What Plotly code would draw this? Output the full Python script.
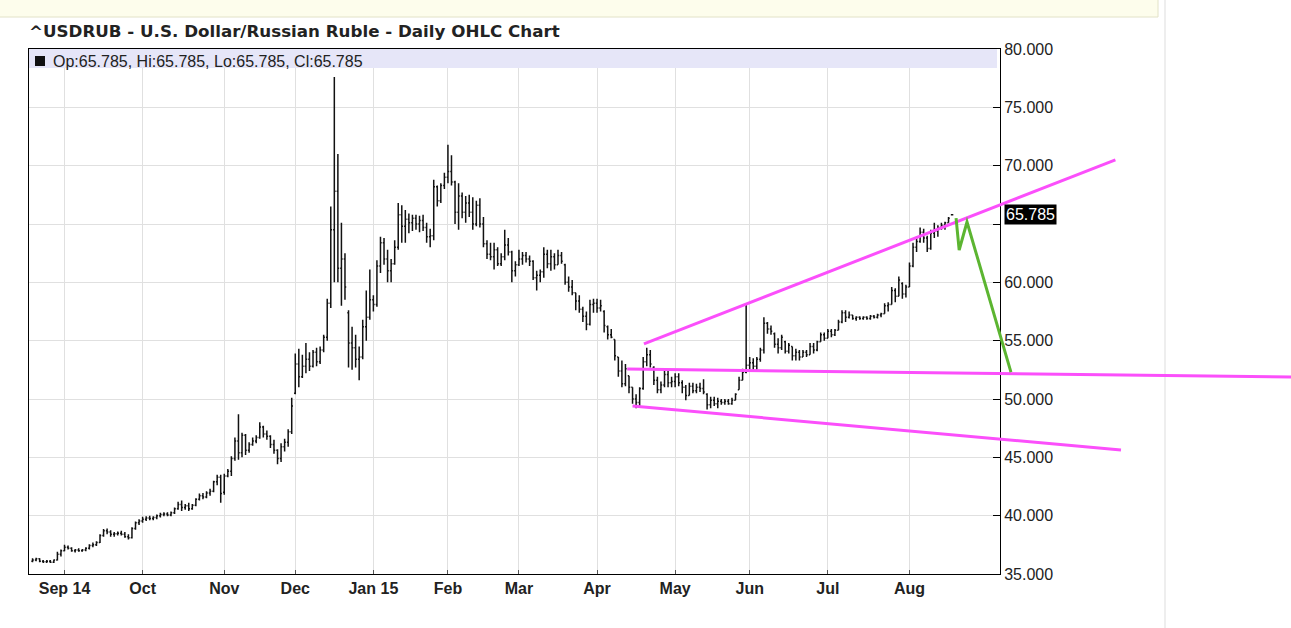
import numpy as np
import pandas as pd
import plotly.graph_objects as go

# ---------------- data ----------------
HOLIDAYS = ["2014-12-25", "2015-01-01"]
FIRST_DAY = "2014-08-19"
LAST_DAY = "2015-08-19"

# (open, high, low, close) per trading day
aug14 = [(36.10, 36.35, 36.00, 36.20), (36.20, 36.40, 36.10, 36.30), (36.30, 36.35, 36.00, 36.10),
         (36.10, 36.20, 35.95, 36.05), (36.05, 36.20, 35.95, 36.10), (36.10, 36.20, 35.95, 36.00),
         (36.00, 36.25, 35.95, 36.20), (36.20, 36.90, 36.15, 36.70), (36.70, 37.10, 36.50, 37.00)]
sep14 = [(37.00, 37.50, 36.95, 37.30), (37.30, 37.45, 37.10, 37.20), (37.20, 37.30, 36.90, 37.00),
         (37.00, 37.15, 36.85, 37.05), (37.05, 37.20, 36.90, 37.00), (37.00, 37.15, 36.90, 37.05),
         (37.05, 37.30, 36.95, 37.20), (37.20, 37.55, 37.10, 37.45), (37.45, 37.70, 37.30, 37.50),
         (37.50, 37.80, 37.40, 37.70), (37.70, 38.40, 37.65, 38.30), (38.30, 38.85, 38.20, 38.70),
         (38.70, 38.90, 38.40, 38.60), (38.60, 38.75, 38.20, 38.40), (38.40, 38.60, 38.20, 38.45),
         (38.45, 38.65, 38.30, 38.50), (38.50, 38.70, 38.30, 38.40), (38.40, 38.60, 38.10, 38.20),
         (38.20, 38.40, 37.95, 38.10), (38.10, 39.00, 38.05, 38.90), (38.90, 39.50, 38.80, 39.40),
         (39.40, 39.70, 39.20, 39.55)]
oct14 = [(39.55, 39.90, 39.40, 39.70), (39.70, 39.95, 39.55, 39.80), (39.80, 40.00, 39.60, 39.75),
         (39.75, 39.95, 39.60, 39.85), (39.85, 40.10, 39.70, 40.00), (40.00, 40.25, 39.85, 40.10),
         (40.10, 40.30, 39.95, 40.15), (40.15, 40.30, 39.95, 40.05), (40.05, 40.35, 39.95, 40.25),
         (40.25, 40.70, 40.15, 40.60), (40.60, 41.20, 40.50, 40.95), (40.95, 41.30, 40.40, 40.70),
         (40.70, 41.00, 40.50, 40.85), (40.85, 41.10, 40.40, 40.60), (40.60, 41.00, 40.50, 40.90),
         (40.90, 41.50, 40.80, 41.40), (41.40, 41.90, 41.30, 41.70), (41.70, 41.95, 41.40, 41.60),
         (41.60, 42.10, 41.50, 41.95), (41.95, 42.30, 41.70, 42.10), (42.10, 43.00, 42.00, 42.90),
         (42.90, 43.50, 42.60, 43.30), (43.30, 43.50, 41.10, 41.90)]
nov14 = [(42.00, 43.60, 41.80, 43.40), (43.40, 44.00, 43.30, 43.80), (43.80, 45.10, 43.40, 44.90),
         (44.90, 46.70, 44.70, 46.40), (46.40, 48.70, 44.80, 45.40), (45.40, 47.10, 45.00, 46.90),
         (46.90, 47.00, 45.20, 45.60), (45.60, 46.30, 45.40, 46.10), (46.10, 46.70, 46.00, 46.40),
         (46.40, 46.90, 46.20, 46.70), (46.70, 48.00, 46.60, 47.60), (47.60, 47.70, 46.70, 47.00),
         (47.00, 47.30, 46.50, 46.80), (46.80, 46.90, 45.80, 46.10), (46.10, 46.50, 45.30, 45.60),
         (45.60, 45.70, 44.40, 44.90), (44.90, 46.20, 44.60, 45.90), (45.90, 46.60, 45.50, 46.30),
         (46.30, 47.40, 45.90, 47.20), (47.20, 50.10, 47.00, 49.40)]
dec14 = [(50.50, 53.90, 50.40, 53.00), (53.00, 54.30, 51.00, 51.90), (51.90, 53.80, 51.80, 52.80),
         (52.80, 54.80, 52.20, 53.40), (53.40, 54.00, 52.40, 52.80), (52.80, 54.20, 52.70, 54.00),
         (54.00, 54.40, 52.80, 53.20), (53.20, 54.50, 53.00, 54.20), (54.20, 55.50, 54.00, 55.30),
         (55.30, 58.60, 55.00, 58.20), (58.20, 66.50, 57.80, 64.50), (64.50, 77.60, 60.00, 67.80),
         (67.80, 71.00, 60.00, 61.20), (61.20, 65.10, 58.00, 62.00), (62.00, 62.50, 58.50, 59.60),
         (57.40, 57.60, 52.70, 54.80), (54.80, 56.20, 52.50, 54.40), (54.40, 55.50, 52.70, 53.40),
         (53.40, 54.50, 51.60, 53.60), (53.60, 56.80, 53.40, 56.20), (56.20, 59.30, 55.00, 57.00),
         (57.00, 61.10, 56.80, 58.50)]
jan15 = [(58.50, 58.90, 57.50, 58.10), (58.10, 61.90, 57.90, 61.40), (61.40, 63.90, 60.80, 63.40),
         (63.40, 63.80, 61.50, 62.00), (62.00, 62.80, 60.00, 61.00), (61.00, 62.00, 60.00, 61.60),
         (61.60, 63.60, 61.50, 63.00), (63.00, 66.80, 62.80, 65.80), (65.80, 66.60, 63.40, 64.80),
         (64.80, 66.20, 63.40, 65.40), (65.40, 65.90, 64.20, 65.10), (65.10, 65.80, 64.40, 65.50),
         (65.50, 65.80, 64.50, 65.00), (65.00, 65.70, 64.30, 65.30), (65.30, 65.80, 64.40, 64.70),
         (64.70, 65.10, 63.40, 63.90), (63.90, 64.60, 63.00, 64.00), (64.00, 68.80, 63.60, 68.20),
         (68.20, 68.30, 66.50, 67.00), (67.00, 68.50, 66.80, 68.30), (68.30, 69.40, 68.00, 69.00)]
feb15 = [(69.00, 71.80, 68.50, 69.50), (69.50, 70.90, 68.30, 68.60), (68.60, 68.70, 65.00, 66.00),
         (66.00, 68.50, 64.50, 67.40), (67.40, 67.70, 65.50, 66.00), (66.00, 67.40, 65.10, 66.80),
         (66.80, 67.50, 65.60, 66.00), (66.00, 67.30, 64.50, 65.00), (65.00, 67.00, 64.80, 66.60),
         (66.60, 67.20, 64.70, 65.00), (65.00, 65.60, 63.00, 63.30), (63.30, 63.60, 62.00, 62.40),
         (62.40, 63.40, 61.90, 62.20), (62.20, 63.40, 61.10, 62.80), (62.80, 63.00, 61.40, 61.60),
         (61.60, 62.50, 61.40, 62.20), (62.20, 64.50, 61.90, 63.20), (63.20, 63.80, 62.30, 62.60),
         (62.60, 62.70, 60.00, 61.00), (61.00, 61.80, 60.50, 61.50)]
mar15 = [(61.50, 62.80, 61.40, 62.00), (62.00, 62.60, 61.50, 62.30), (62.30, 62.60, 61.70, 62.00),
         (62.00, 62.30, 61.40, 61.80), (61.80, 61.90, 60.20, 60.40), (60.40, 61.00, 59.30, 60.60),
         (60.60, 61.10, 60.00, 60.90), (60.90, 63.00, 60.40, 62.40), (62.40, 62.80, 61.20, 61.60),
         (61.60, 62.80, 61.00, 62.20), (62.20, 62.50, 61.10, 61.50), (61.50, 62.80, 61.50, 62.30),
         (62.30, 62.60, 61.60, 61.80), (61.50, 61.60, 59.80, 60.00), (60.00, 60.50, 59.20, 59.60),
         (59.60, 60.20, 58.90, 59.10), (59.10, 59.10, 57.60, 58.40), (58.40, 58.90, 57.40, 57.70),
         (57.70, 57.90, 56.60, 57.10), (57.10, 57.50, 55.90, 56.40), (56.40, 58.50, 56.30, 58.10),
         (58.10, 58.60, 57.40, 58.20)]
apr15 = [(58.20, 58.60, 57.40, 57.80), (57.80, 58.50, 57.50, 58.00), (57.50, 57.60, 55.70, 56.30),
         (56.20, 56.30, 55.10, 55.50), (55.50, 56.00, 55.20, 55.30), (55.10, 55.10, 53.30, 53.70),
         (53.60, 53.60, 51.90, 52.40), (52.40, 53.30, 51.00, 51.30), (51.30, 53.00, 51.10, 52.60),
         (52.00, 52.00, 50.50, 51.00), (51.00, 51.00, 49.60, 50.00), (50.00, 50.40, 49.20, 49.70),
         (49.70, 51.00, 49.30, 50.90), (50.90, 53.60, 50.80, 53.20), (53.20, 54.40, 52.80, 53.80),
         (53.80, 54.20, 52.70, 53.00), (52.70, 52.80, 51.20, 51.60), (51.60, 51.90, 50.50, 50.80),
         (50.80, 51.50, 50.50, 51.20), (51.20, 52.60, 51.00, 52.10), (52.10, 52.50, 51.00, 51.40),
         (51.40, 51.90, 51.00, 51.50)]
may15 = [(51.50, 52.20, 51.00, 51.90), (51.90, 52.20, 51.10, 51.40), (51.40, 51.60, 50.50, 51.00),
         (51.00, 51.20, 49.90, 50.30), (50.30, 51.40, 50.30, 51.10), (51.10, 51.40, 50.50, 50.70),
         (50.70, 51.30, 50.50, 51.00), (51.00, 51.40, 50.60, 50.90), (50.90, 51.70, 50.40, 50.60),
         (50.40, 50.50, 49.10, 49.50), (49.50, 50.20, 49.20, 49.90), (49.90, 50.20, 49.40, 49.60),
         (49.60, 50.10, 49.20, 49.80), (49.80, 50.00, 49.50, 49.70), (49.70, 50.00, 49.50, 49.80),
         (49.80, 50.00, 49.50, 49.60), (49.60, 50.10, 49.50, 49.90), (49.90, 50.50, 49.90, 50.40),
         (50.80, 51.90, 50.80, 51.60), (51.60, 52.60, 51.60, 52.30), (52.30, 58.10, 52.20, 52.90)]
jun15 = [(52.90, 53.60, 52.50, 53.10), (53.10, 53.50, 52.50, 52.80), (52.80, 53.60, 52.50, 53.40),
         (53.40, 54.40, 53.20, 54.20), (54.20, 57.00, 53.90, 56.50), (56.50, 56.60, 55.60, 56.00),
         (56.00, 56.30, 55.50, 55.80), (55.60, 55.70, 54.40, 54.70), (54.70, 55.20, 53.90, 54.40),
         (54.40, 55.50, 54.20, 55.30), (54.90, 55.00, 53.90, 54.10), (54.10, 54.80, 53.90, 54.60),
         (54.50, 54.50, 53.30, 53.70), (53.70, 54.30, 53.30, 54.00), (54.00, 54.20, 53.30, 53.60),
         (53.60, 54.20, 53.60, 54.00), (54.00, 54.20, 53.60, 53.80), (53.80, 54.80, 53.80, 54.50),
         (54.50, 54.80, 53.90, 54.20), (54.20, 55.00, 54.10, 54.90), (54.90, 55.70, 54.90, 55.50),
         (55.50, 55.70, 55.00, 55.20)]
jul15 = [(55.20, 56.00, 55.20, 55.80), (55.80, 56.00, 55.30, 55.50), (55.50, 56.00, 55.40, 55.90),
         (55.90, 56.80, 55.90, 56.60), (56.60, 57.60, 56.50, 57.40), (57.40, 57.60, 56.60, 57.00),
         (57.00, 57.50, 56.90, 57.20), (57.20, 57.20, 56.80, 56.90), (56.90, 57.10, 56.70, 57.00),
         (57.00, 57.10, 56.80, 56.90), (56.90, 57.10, 56.80, 57.00), (57.00, 57.10, 56.80, 56.90),
         (56.90, 57.20, 56.80, 57.10), (57.10, 57.20, 56.90, 57.00), (57.00, 57.30, 56.90, 57.20),
         (57.20, 57.40, 57.00, 57.30), (57.30, 58.20, 57.30, 58.00), (58.00, 58.30, 57.50, 58.10),
         (58.10, 59.60, 58.10, 59.30), (59.30, 59.50, 58.30, 58.80), (58.80, 60.50, 58.80, 60.20),
         (59.90, 60.00, 58.60, 59.00), (59.00, 59.80, 58.70, 59.60)]
aug15 = [(59.60, 61.70, 59.60, 61.40), (61.40, 63.40, 61.30, 63.00), (63.00, 63.90, 62.60, 63.50),
         (63.50, 64.70, 63.40, 64.30), (64.30, 64.60, 63.40, 63.80), (63.80, 64.00, 62.60, 62.90),
         (62.90, 64.50, 62.80, 64.20), (64.20, 65.10, 63.80, 64.40), (64.40, 64.90, 63.90, 64.70),
         (64.70, 65.10, 64.50, 64.90), (64.90, 65.20, 64.50, 65.10), (65.10, 65.60, 65.10, 65.50),
         (65.785, 65.785, 65.785, 65.785)]

LAST_PRICE = 65.785

# x-axis month labels
tick_dates = ["2014-09-01", "2014-10-01", "2014-11-03", "2014-12-01", "2015-01-02", "2015-02-02",
              "2015-03-02", "2015-04-01", "2015-05-01", "2015-06-01", "2015-07-01", "2015-08-03"]
tick_text = ["Sep 14", "Oct", "Nov", "Dec", "Jan 15", "Feb", "Mar", "Apr", "May", "Jun", "Jul", "Aug"]
y_ticks = [35, 40, 45, 50, 55, 60, 65, 70, 75, 80]
y_tick_text = ["35.000", "40.000", "45.000", "50.000", "55.000", "60.000", "", "70.000", "75.000", "80.000"]

# drawn trend lines (date, price)
upper_line = [("2015-04-20 05:00", 54.72), ("2015-10-22", 70.49)]
middle_line = [("2015-04-13 12:00", 52.57), ("2015-12-31", 51.89)]
lower_line = [("2015-04-15", 49.40), ("2015-10-23 14:00", 45.63)]
green_path = [("2015-08-20 03:00", 65.51), ("2015-08-21", 62.77), ("2015-08-25 05:00", 65.17),
              ("2015-09-10 14:00", 52.31)]

X_RANGE = ["2014-08-18", "2015-09-07 12:00"]
Y_RANGE = [35, 80]

# ---------------- build ----------------
bars = aug14 + sep14 + oct14 + nov14 + dec14 + jan15 + feb15 + mar15 + apr15 + may15 + jun15 + jul15 + aug15
dates = pd.bdate_range(FIRST_DAY, LAST_DAY, freq="C", holidays=HOLIDAYS)
assert len(dates) == len(bars), (len(dates), len(bars))
opens = [b[0] for b in bars]
highs = [b[1] for b in bars]
lows = [b[2] for b in bars]
closes = [b[3] for b in bars]

W, H = 1291, 628
L, R, T, B = 29, 291, 49, 54
PW, PH = W - L - R, H - T - B

hol = np.array(HOLIDAYS, dtype="datetime64[D]")


def tpos(ts):
    ts = pd.Timestamp(ts)
    d = ts.normalize()
    frac = (ts - d) / pd.Timedelta("1D")
    return np.busday_count(np.datetime64("2000-01-03"), np.datetime64(d.date()), holidays=hol) + frac


X0, X1 = tpos(X_RANGE[0]), tpos(X_RANGE[1])


def xpaper(ts):
    return (tpos(ts) - X0) / (X1 - X0)


def px_x(p):
    return (p - L) / PW


def px_y(p):
    return (H - B - p) / PH


fig = go.Figure()
fig.add_trace(go.Ohlc(
    x=dates, open=opens, high=highs, low=lows, close=closes,
    increasing=dict(line=dict(color="#111111", width=1.5)),
    decreasing=dict(line=dict(color="#111111", width=1.5)),
    tickwidth=0.35, showlegend=False, hoverinfo="x+y",
))

shapes = []
# legend band
shapes.append(dict(type="rect", xref="paper", yref="paper", x0=0, x1=px_x(997), y0=px_y(68), y1=1,
                   fillcolor="#e6e6f8", line=dict(width=0), layer="above"))
shapes.append(dict(type="rect", xref="paper", yref="paper", x0=px_x(35), x1=px_x(45), y0=px_y(66), y1=px_y(56),
                   fillcolor="#111111", line=dict(width=0), layer="above"))
# page decorations
shapes.append(dict(type="rect", xref="paper", yref="paper", x0=px_x(-2), x1=px_x(1158), y0=px_y(17), y1=px_y(-2),
                   fillcolor="#fdfdec", line=dict(color="#e2e2c8", width=1), layer="above"))
shapes.append(dict(type="line", xref="paper", yref="paper", x0=px_x(1165), x1=px_x(1165), y0=px_y(0), y1=px_y(628),
                   line=dict(color="#dddddd", width=1), layer="above"))

PINK = "#fb4ffb"
for ln in (upper_line, middle_line, lower_line):
    shapes.append(dict(type="line", xref="paper", yref="y",
                       x0=xpaper(ln[0][0]), y0=ln[0][1], x1=xpaper(ln[1][0]), y1=ln[1][1],
                       line=dict(color=PINK, width=3), layer="above"))
path = "M " + " L ".join(f"{xpaper(d):.5f},{v}" for d, v in green_path)
shapes.append(dict(type="path", xref="paper", yref="y", path=path,
                   line=dict(color="#5cb531", width=3), layer="above"))

annotations = [
    dict(text="^USDRUB - U.S. Dollar/Russian Ruble - Daily OHLC Chart", xref="paper", yref="paper",
         x=px_x(27), y=px_y(31), xanchor="left", yanchor="middle", showarrow=False,
         font=dict(family="DejaVu Sans", size=16.7, color="#222222", weight="bold")),
    dict(text="Op:65.785, Hi:65.785, Lo:65.785, Cl:65.785", xref="paper", yref="paper",
         x=px_x(51), y=px_y(61), xanchor="left", yanchor="middle", showarrow=False,
         font=dict(family="Liberation Sans", size=16, color="#222222")),
    dict(text=f"{LAST_PRICE:.3f}", xref="paper", yref="y", x=px_x(1004), y=LAST_PRICE,
         xanchor="left", yanchor="middle", showarrow=False, bgcolor="black", borderpad=1,
         font=dict(family="Liberation Sans", size=16, color="white")),
]

fig.update_layout(
    width=W, height=H, margin=dict(l=L, r=R, t=T, b=B),
    paper_bgcolor="white", plot_bgcolor="white",
    shapes=shapes, annotations=annotations, showlegend=False,
    xaxis=dict(
        type="date", range=X_RANGE,
        rangebreaks=[dict(bounds=["sat", "mon"]), dict(values=HOLIDAYS)],
        rangeslider=dict(visible=False),
        tickmode="array", tickvals=tick_dates, ticktext=tick_text,
        showgrid=True, gridcolor="#e0e0e0", gridwidth=1,
        showline=True, linecolor="black", linewidth=1, mirror=True,
        ticks="inside", ticklen=4, tickcolor="#555555",
        tickfont=dict(family="Liberation Sans", size=16, color="#222222", weight="bold"),
        zeroline=False,
    ),
    yaxis=dict(
        side="right", range=Y_RANGE, tickmode="array", tickvals=y_ticks, ticktext=y_tick_text,
        showgrid=True, gridcolor="#e0e0e0", gridwidth=1,
        showline=True, linecolor="black", linewidth=1, mirror=True,
        ticks="inside", ticklen=7, tickcolor="black",
        tickfont=dict(family="Liberation Sans", size=16, color="#222222"),
        zeroline=False,
    ),
)

fig.write_html("out.html")
